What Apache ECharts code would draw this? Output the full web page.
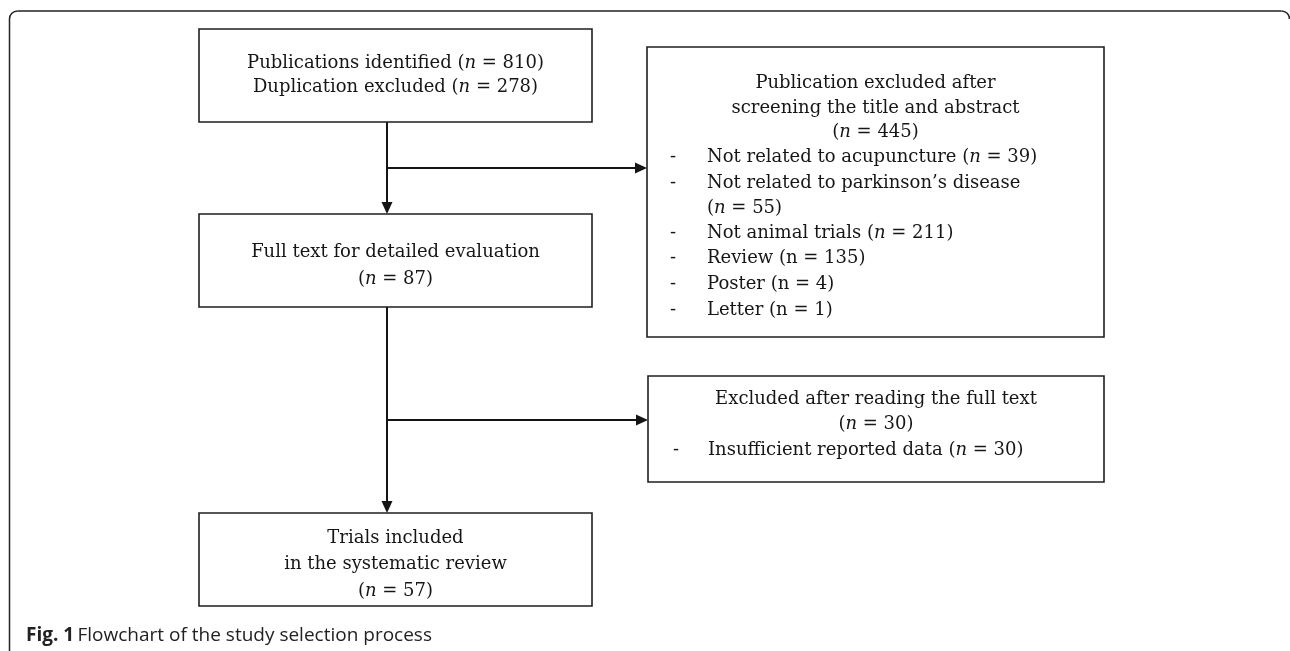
<!DOCTYPE html>
<html>
<head>
<meta charset="utf-8">
<script src="https://cdn.jsdelivr.net/npm/echarts@6/dist/echarts.min.js"></script>
<style>html,body{margin:0;padding:0;background:#fff}#c{width:1290px;height:651px}</style>
</head>
<body>
<div id="c"></div>
<script>
// ---------------- DATA ----------------
const stageLabels = ['Publications identified', 'Duplication excluded', 'Full text for detailed evaluation', 'Trials included', 'in the systematic review'];
const stageCounts = [810, 278, 87, 57];
const screenTitle = ['Publication excluded after', 'screening the title and abstract'];
const screenTotal = 445;
const screenReasons = ['Not related to acupuncture', 'Not related to parkinson\u2019s disease', 'Not animal trials', 'Review', 'Poster', 'Letter'];
const screenCounts = [39, 55, 211, 135, 4, 1];
const fullTextTitle = ['Excluded after reading the full text'];
const fullTextTotal = 30;
const fullTextReasons = ['Insufficient reported data'];
const fullTextCounts = [30];
const captionLabel = 'Fig. 1';
const captionText = 'Flowchart of the study selection process';

// ---------------- LAYOUT / STYLE ----------------
const SERIF = '"DejaVu Serif", "Liberation Serif", serif';
const FS = 18;
const layout = {
  boxes: [
    { x0: 199, y0: 29,  x1: 592,  y1: 122 },
    { x0: 199, y0: 214, x1: 592,  y1: 307 },
    { x0: 199, y0: 513, x1: 592,  y1: 606 },
    { x0: 647, y0: 47,  x1: 1104, y1: 337 },
    { x0: 648, y0: 376, x1: 1104, y1: 482 }
  ],
  lines: [
    { center: [63, 87] },
    { center: [252, 279] },
    { center: [538, 564, 591] },
    { center: [83, 108, 132], list: [157, 183, 208, 233, 258, 284, 310], dashX: 670, textX: 707 },
    { center: [399, 424], list: [450], dashX: 673, textX: 708 }
  ],
  arrows: [
    [[387, 122], [387, 214]],
    [[387, 168], [647, 168]],
    [[387, 307], [387, 513]],
    [[387, 420], [648, 420]]
  ],
  screenItalicN: [true, true, true, false, false, false],
  screenWrap: [false, true, false, false, false, false]
};

const richStyles = {
  r: { fontFamily: SERIF, fontSize: FS, fill: '#161616' },
  i: { fontFamily: SERIF, fontSize: FS, fontStyle: 'italic', fill: '#161616' }
};

function nRich(prefix, count, italic) {
  return (prefix ? '{r|' + prefix + ' (}' : '{r|(}') + (italic ? '{i|n}' : '{r|n}') + '{r| = ' + count + ')}';
}
function plain(t) { return '{r|' + t + '}'; }

const boxContent = [
  { center: [nRich(stageLabels[0], stageCounts[0], true), nRich(stageLabels[1], stageCounts[1], true)], list: [] },
  { center: [plain(stageLabels[2]), nRich('', stageCounts[2], true)], list: [] },
  { center: [plain(stageLabels[3]), plain(stageLabels[4]), nRich('', stageCounts[3], true)], list: [] },
  { center: [plain(screenTitle[0]), plain(screenTitle[1]), nRich('', screenTotal, true)], list: [] },
  { center: [plain(fullTextTitle[0]), nRich('', fullTextTotal, true)], list: [] }
];
screenReasons.forEach((r, k) => {
  if (layout.screenWrap[k]) {
    boxContent[3].list.push({ dash: true, text: plain(r) });
    boxContent[3].list.push({ dash: false, text: nRich('', screenCounts[k], layout.screenItalicN[k]) });
  } else {
    boxContent[3].list.push({ dash: true, text: nRich(r, screenCounts[k], layout.screenItalicN[k]) });
  }
});
fullTextReasons.forEach((r, k) => {
  boxContent[4].list.push({ dash: true, text: nRich(r, fullTextCounts[k], true) });
});

function textEl(text, x, y, align) {
  return {
    type: 'text',
    style: { text: text, x: x, y: y, align: align, verticalAlign: 'middle', rich: richStyles,
             fontFamily: SERIF, fontSize: FS, fill: '#161616' }
  };
}

function renderBox(params, api) {
  const idx = api.value(0);
  const b = layout.boxes[idx], c = boxContent[idx], L = layout.lines[idx];
  const tl = api.coord([b.x0, b.y0]), br = api.coord([b.x1, b.y1]);
  const children = [{
    type: 'rect',
    shape: { x: tl[0], y: tl[1], width: br[0] - tl[0], height: br[1] - tl[1] },
    style: { fill: '#fff', stroke: '#1e1e1e', lineWidth: 1.6 }
  }];
  const cx = (tl[0] + br[0]) / 2;
  c.center.forEach((t, k) => {
    const y = api.coord([0, L.center[k]])[1];
    children.push(textEl(t, cx, y, 'center'));
  });
  c.list.forEach((row, k) => {
    const y = api.coord([0, L.list[k]])[1];
    if (row.dash) children.push(textEl('{r|-}', api.coord([L.dashX, 0])[0], y, 'left'));
    children.push(textEl(row.text, api.coord([L.textX, 0])[0], y, 'left'));
  });
  return { type: 'group', children: children };
}

function renderArrow(params, api) {
  const a = layout.arrows[api.value(0)];
  const p0 = api.coord(a[0]), p1 = api.coord(a[1]);
  const dx = p1[0] - p0[0], dy = p1[1] - p0[1];
  const len = Math.sqrt(dx * dx + dy * dy);
  const ux = dx / len, uy = dy / len;
  const head = 12, half = 5.5;
  const bx = p1[0] - ux * head, by = p1[1] - uy * head;
  return {
    type: 'group',
    children: [
      { type: 'line', shape: { x1: p0[0], y1: p0[1], x2: bx, y2: by },
        style: { stroke: '#151515', lineWidth: 2 } },
      { type: 'polygon', shape: { points: [[p1[0], p1[1]], [bx - uy * half, by + ux * half], [bx + uy * half, by - ux * half]] },
        style: { fill: '#151515' } }
    ]
  };
}

const frameStyle = { stroke: '#222', lineWidth: 1.5, fill: null };
const chart = echarts.init(document.getElementById('c'), null, { renderer: 'canvas' });
chart.setOption({
  animation: false,
  backgroundColor: '#fff',
  grid: { left: 0, top: 0, width: 1290, height: 651 },
  xAxis: { type: 'value', min: 0, max: 1290, show: false },
  yAxis: { type: 'value', min: 0, max: 651, inverse: true, show: false },
  graphic: [
    { type: 'line', silent: true, shape: { x1: 9.5, y1: 19, x2: 9.5, y2: 651 }, style: frameStyle },
    { type: 'line', silent: true, shape: { x1: 17.5, y1: 11, x2: 1281.5, y2: 11 }, style: frameStyle },
    { type: 'arc', silent: true, shape: { cx: 17.5, cy: 19, r: 8, startAngle: Math.PI, endAngle: Math.PI * 1.5 }, style: frameStyle },
    { type: 'arc', silent: true, shape: { cx: 1281.5, cy: 19, r: 8, startAngle: Math.PI * 1.5, endAngle: Math.PI * 2 }, style: frameStyle },
    { type: 'text', x: 26, y: 636,
      style: { text: '{b|' + captionLabel + '} {c|' + captionText + '}', verticalAlign: 'middle',
        rich: {
          b: { fontFamily: '"Open Sans", sans-serif', fontSize: 19, fontWeight: 'bold', fill: '#222' },
          c: { fontFamily: '"Open Sans", sans-serif', fontSize: 19, fill: '#222' }
        } } }
  ],
  series: [
    { type: 'custom', coordinateSystem: 'cartesian2d', renderItem: renderArrow,
      data: layout.arrows.map((a, i) => [i]), z: 1 },
    { type: 'custom', coordinateSystem: 'cartesian2d', renderItem: renderBox,
      data: layout.boxes.map((b, i) => [i]), z: 2 }
  ]
});
</script>
</body>
</html>
